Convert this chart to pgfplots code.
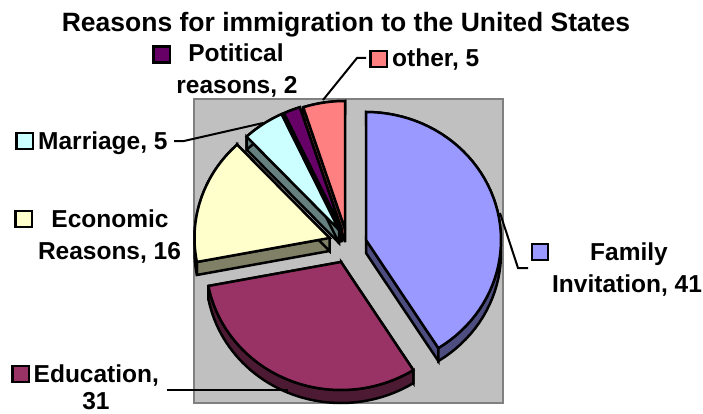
\documentclass[border=0pt]{standalone}
\usepackage{pgfplots}
\pgfplotsset{compat=1.18}
\usepackage{fontspec}
\setmainfont{Liberation Sans}
\definecolor{famT}{HTML}{9999FF}\definecolor{famS}{HTML}{4D4D80}
\definecolor{eduT}{HTML}{993366}\definecolor{eduS}{HTML}{4D1A33}
\definecolor{ecoT}{HTML}{FFFFCC}\definecolor{ecoS}{HTML}{808066}
\definecolor{marT}{HTML}{CCFFFF}\definecolor{marS}{HTML}{668080}
\definecolor{polT}{HTML}{660066}\definecolor{polS}{HTML}{330033}
\definecolor{othT}{HTML}{FF8080}\definecolor{othS}{HTML}{804040}
\newcommand\lbl{\fontsize{24.5bp}{32bp}\selectfont\bfseries}
\newcommand\ttl{\fontsize{26.5bp}{32bp}\selectfont\bfseries}
\pgfplotsset{edge/.style={draw=black,line width=2.5bp,line join=miter,miter limit=4}}
\tikzset{txt/.style={anchor=base,inner sep=0pt},txtw/.style={anchor=base west,inner sep=0pt}}
% Radii of the elliptical pie and height of its rim, in pixels
\def\rx{135}\def\ry{128}\def\rim{13}
% Collect the arc of a slice into \arcpts (front) and \arcback (reversed, lowered by the rim)
\newcommand\collectarc[2]{%
  \def\arcpts{}\def\arcback{}%
  \pgfplotsforeachungrouped \k in {0,...,48}{%
    \pgfmathsetmacro\ang{#1+(#2-#1)*\k/48}%
    \pgfmathsetmacro\px{\cx+\rx*sin(\ang)}%
    \pgfmathsetmacro\py{\cy-\ry*cos(\ang)}%
    \pgfmathsetmacro\qy{\py+\rim}%
    \edef\arcpts{\arcpts (\px,\py)}%
    \edef\arcback{(\px,\qy) \arcback}%
  }%
}
\newcommand\drawpoly[2]{%
  \edef\tmp{\noexpand\addplot[edge,fill=#1] coordinates {#2} -- cycle;}\tmp
}
% \slice{apex x}{apex y}{share before}{share}{top colour}{rim colour}
\newcommand\slice[6]{%
  \def\cx{#1}\def\cy{#2}%
  \pgfmathsetmacro\angA{3.6*#3}%
  \pgfmathsetmacro\angB{3.6*(#3+#4)}%
  \pgfmathsetmacro\cyl{#2+\rim}%
  \collectarc{\angA}{\angB}%
  \pgfmathsetmacro\ax{\cx+\rx*sin(\angA)}\pgfmathsetmacro\ay{\cy-\ry*cos(\angA)}%
  \pgfmathsetmacro\ayl{\ay+\rim}%
  \pgfmathsetmacro\bx{\cx+\rx*sin(\angB)}\pgfmathsetmacro\by{\cy-\ry*cos(\angB)}%
  \pgfmathsetmacro\byl{\by+\rim}%
  \drawpoly{#6}{(\cx,\cy) (\ax,\ay) (\ax,\ayl) (\cx,\cyl)}%
  \drawpoly{#6}{(\cx,\cy) (\bx,\by) (\bx,\byl) (\cx,\cyl)}%
  \drawpoly{#6}{\arcpts\space\arcback}%
  \drawpoly{#5}{(\cx,\cy) \arcpts}%
}
\begin{document}
\begin{tikzpicture}
\begin{axis}[
  scale only axis, width=703bp, height=414bp,
  xmin=0, xmax=703, ymin=0, ymax=414, y dir=reverse,
  hide axis, clip=false]
% page frame
\path[use as bounding box] (axis cs:0,0) rectangle (axis cs:703,414);
% plot area
\addplot[draw=gray,line width=2bp,fill={rgb,255:red,192;green,192;blue,192}] coordinates {(194,99) (503,99) (503,403) (194,403)} -- cycle;
% slices, back to front
\slice{345}{229}{95}{5}{othT}{othS}
\slice{341.5}{229}{93}{2}{polT}{polS}
\slice{339}{230}{88}{5}{marT}{marS}
\slice{329.5}{238}{72}{16}{ecoT}{ecoS}
\slice{341}{262}{41}{31}{eduT}{eduS}
\slice{366}{240}{0}{41}{famT}{famS}
% leader lines
\addplot[black,line width=2bp] coordinates {(500,213) (518,268) (528,268)};
\addplot[black,line width=2bp] coordinates {(288,390) (167,390)};
\addplot[black,line width=2bp] coordinates {(263,123) (184,141) (174,141)};
\addplot[black,line width=2bp] coordinates {(323,100) (357,58) (366,58)};
% legend keys
\addplot[edge,fill=famT] coordinates {(532,244) (548,244) (548,260) (532,260)} -- cycle;
\addplot[edge,fill=eduT] coordinates {(12.5,366) (29,366) (29,382) (12.5,382)} -- cycle;
\addplot[edge,fill=ecoT] coordinates {(15.5,211) (32,211) (32,227) (15.5,227)} -- cycle;
\addplot[edge,fill=marT] coordinates {(16.5,133) (33,133) (33,149) (16.5,149)} -- cycle;
\addplot[edge,fill=polT] coordinates {(153.5,46.5) (170,46.5) (170,62.5) (153.5,62.5)} -- cycle;
\addplot[edge,fill=othT] coordinates {(370.5,51) (387,51) (387,67) (370.5,67)} -- cycle;
% texts
\node[txt] at (axis cs:346,32) {\ttl Reasons for immigration to the United States};
\node[txt] at (axis cs:236,62) {\lbl Potitical};
\node[txt] at (axis cs:237,93.5) {\lbl reasons, 2};
\node[txtw] at (axis cs:392,67) {\lbl other, 5};
\node[txtw] at (axis cs:38,149) {\lbl Marriage, 5};
\node[txt] at (axis cs:110,227) {\lbl Economic};
\node[txt] at (axis cs:109.5,259) {\lbl Reasons, 16};
\node[txtw] at (axis cs:33.5,382) {\lbl Education,};
\node[txt] at (axis cs:96,409) {\lbl 31};
\node[txt] at (axis cs:629,260) {\lbl Family};
\node[txt] at (axis cs:627,292) {\lbl Invitation, 41};
\end{axis}
\end{tikzpicture}
\end{document}
